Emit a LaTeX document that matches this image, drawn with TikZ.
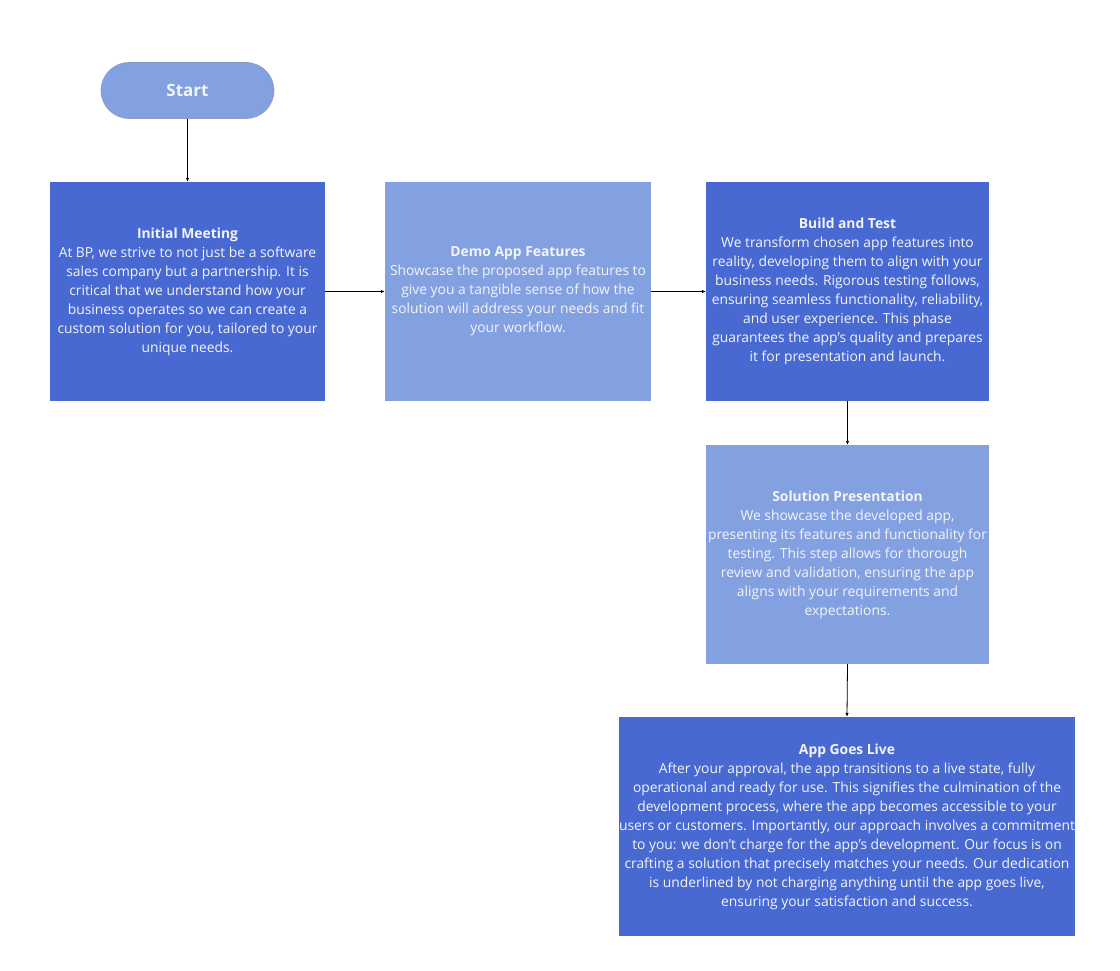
\documentclass[tikz,border=0pt]{standalone}
\usepackage{fontspec}
\setmainfont{Open Sans}
\usetikzlibrary{arrows.meta}
\definecolor{darkbox}{HTML}{4869D1}
\definecolor{lightbox}{HTML}{83A1E1}
\definecolor{boxtext}{HTML}{F2F4FA}
\definecolor{pillline}{HTML}{8C9BBE}
\tikzset{
  stepbox/.style={rectangle, inner sep=0pt, text=boxtext, align=center,
    font=\fontsize{13.85}{19}\selectfont},
  darkfill/.style={stepbox, fill=darkbox},
  lightfill/.style={stepbox, fill=lightbox},
  flow/.style={draw=black, line width=0.8pt, -{Latex[length=4pt,width=3.5pt]}},
}
\begin{document}
\begin{tikzpicture}[x=1pt,y=-1pt]
\useasboundingbox (0,0) rectangle (1120,971);
\fill[white] (0,0) rectangle (1120,971);

\node[rectangle, rounded corners=28pt, fill=lightbox, draw=pillline, line width=0.6pt,
  minimum width=173pt, minimum height=56pt, text=boxtext,
  font=\fontsize{17}{20}\selectfont\bfseries] (start) at (187.5,90.5) {Start};

\node[darkfill, minimum width=275pt, minimum height=219pt] (meet) at (187.5,291.5)
{\textbf{Initial Meeting}\\
At BP, we strive to not just be a software\\
sales company but a partnership. It is\\
critical that we understand how your\\
business operates so we can create a\\
custom solution for you, tailored to your\\
unique needs.};

\node[lightfill, minimum width=266pt, minimum height=219pt] (demo) at (518,291.5)
{\textbf{Demo App Features}\\
Showcase the proposed app features to\\
give you a tangible sense of how the\\
solution will address your needs and fit\\
your workflow.};

\node[darkfill, minimum width=283pt, minimum height=219pt] (build) at (847.5,291.5)
{\textbf{Build and Test}\\
We transform chosen app features into\\
reality, developing them to align with your\\
business needs. Rigorous testing follows,\\
ensuring seamless functionality, reliability,\\
and user experience. This phase\\
guarantees the app's quality and prepares\\
it for presentation and launch.};

\node[lightfill, minimum width=283pt, minimum height=219pt] (sol) at (847.5,554.5)
{\textbf{Solution Presentation}\\
We showcase the developed app,\\
presenting its features and functionality for\\
testing. This step allows for thorough\\
review and validation, ensuring the app\\
aligns with your requirements and\\
expectations.};

\node[darkfill, minimum width=456pt, minimum height=219pt] (live) at (847,826.5)
{\textbf{App Goes Live}\\
After your approval, the app transitions to a live state, fully\\
operational and ready for use. This signifies the culmination of the\\
development process, where the app becomes accessible to your\\
users or customers. Importantly, our approach involves a commitment\\
to you: we don't charge for the app's development. Our focus is on\\
crafting a solution that precisely matches your needs. Our dedication\\
is underlined by not charging anything until the app goes live,\\
ensuring your satisfaction and success.};

\draw[flow] (start.south) -- (meet.north);
\draw[flow] (meet.east) -- (demo.west);
\draw[flow] (demo.east) -- (build.west);
\draw[flow] (build.south) -- (sol.north);
\draw[flow] (sol.south) -- (live.north);
\end{tikzpicture}
\end{document}
